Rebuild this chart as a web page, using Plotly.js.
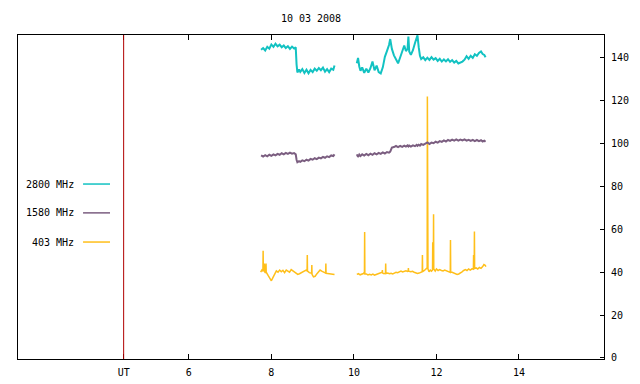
<!DOCTYPE html>
<html>
<head>
<meta charset="utf-8">
<script src="https://cdn.plot.ly/plotly-3.0.1.min.js"></script>
<style>html,body{margin:0;padding:0;background:#fff;}#chart{width:640px;height:384px;}</style>
</head>
<body>
<div id="chart"></div>
<script>
// ---- data (hours UT, solar flux) ----
const chartTitle = "10 03 2008";
const utMarker = 4.42;
const tickHours = [6, 8, 10, 12, 14];
const yTicks = [0, 20, 40, 60, 80, 100, 120, 140];
const seriesNames = ["2800 MHz", "1580 MHz", "403 MHz"];
const seriesColors = ["#12c2c2", "#7b5e80", "#ffbf1a"];

const timeA = [7.75,7.80,7.85,7.90,7.95,8.00,8.05,8.10,8.15,8.20,8.25,8.30,8.35,8.40,8.45,8.50,8.55,
  8.59,8.61,8.63,8.67,
  8.70,8.75,8.80,8.85,8.90,8.95,9.00,9.05,9.10,9.15,9.20,9.25,9.30,9.35,9.40,9.45,9.50,9.53,
  null,
  10.07,10.10,10.13,10.16,10.20,10.25,10.30,10.35,10.40,10.45,10.50,10.55,10.60,10.65,10.70,10.75,10.80,10.85,
  10.88,10.92,10.97,11.02,11.07,11.12,11.17,11.22,11.26,11.30,11.32,11.34,11.38,11.43,11.48,11.52,11.54,11.57,11.60,11.63,
  11.68,11.73,11.78,11.83,11.88,11.93,11.98,12.03,12.08,12.13,12.18,12.23,12.28,12.33,12.38,12.43,12.48,12.53,12.58,12.63,12.68,12.73,12.78,12.83,12.88,12.93,12.98,13.03,13.08,
  13.12,13.16,13.19];

const flux2800 = [143.8,144.6,143.5,145.2,144.3,146.3,145.2,146.6,145.4,146.2,145.0,145.8,144.6,145.5,144.2,145.3,144.4,
  145.0,137.0,133.2,134.6,
  133.5,134.8,133.0,134.5,132.8,134.4,133.4,135.0,134.0,135.3,134.3,135.5,133.6,134.8,133.4,135.0,134.5,136.5,
  null,
  137.5,140.0,136.0,134.0,135.6,133.0,135.0,133.2,135.2,138.3,134.2,136.4,133.4,132.8,135.6,140.5,143.2,146.0,
  148.8,144.2,141.2,139.0,137.5,140.2,143.0,145.8,143.2,144.2,150.0,143.0,141.4,143.6,147.0,149.4,150.5,145.0,141.0,139.5,
  140.3,139.0,140.1,139.1,140.4,139.2,139.9,138.6,139.6,138.3,139.3,138.4,139.4,138.2,139.0,137.8,138.6,137.4,137.7,138.3,139.2,140.8,139.6,141.0,140.0,141.7,141.0,142.3,143.0,
  141.8,141.4,140.3];

const flux1580 = [94.5,94.0,94.6,94.1,94.8,94.3,95.0,94.5,95.2,94.8,95.5,95.0,95.7,95.2,95.8,95.3,95.6,
  95.0,92.5,91.3,91.8,
  91.5,92.2,91.8,92.5,92.1,92.9,92.5,93.2,92.8,93.5,93.1,93.8,93.4,94.1,93.7,94.5,94.2,95.0,
  null,
  95.0,93.8,94.9,94.2,95.0,94.4,95.2,94.6,95.3,94.8,95.5,95.0,95.7,95.2,95.9,95.4,96.1,95.8,
  96.3,98.2,98.4,98.9,98.4,99.0,98.5,99.1,98.6,99.2,98.7,99.1,98.6,99.2,98.8,99.4,99.0,99.5,99.1,99.8,
  99.4,100.2,100.6,99.8,100.5,100.2,100.9,100.5,101.2,100.8,101.5,101.0,101.7,101.3,101.9,101.4,102.0,101.4,101.9,101.5,102.0,101.4,101.8,101.3,101.8,101.2,101.7,101.2,101.6,
  101.0,101.4,100.9];

const time403 = [7.74,7.77,7.795,7.80,7.805,7.82,7.83,7.835,7.86,7.87,7.875,7.92,7.96,8.00,8.04,8.08,8.12,8.16,8.20,8.24,8.28,8.32,8.36,8.40,8.44,8.48,8.52,8.56,8.60,8.64,8.68,8.72,8.76,8.80,8.84,
  8.865,8.87,8.875,8.92,8.975,8.98,8.985,9.02,9.06,9.10,9.14,9.18,9.22,9.26,9.30,9.315,9.32,9.325,9.36,9.40,9.44,9.48,9.53,
  null,
  10.07,10.11,10.15,10.19,10.23,10.255,10.26,10.265,10.30,10.34,10.38,10.42,10.46,10.50,10.54,10.58,10.62,10.66,10.685,10.69,10.695,10.73,10.765,10.77,10.775,
  10.82,10.86,10.90,10.94,10.98,11.02,11.06,11.10,11.14,11.18,11.22,11.26,11.30,11.315,11.32,11.325,11.38,11.42,11.46,11.50,11.54,11.58,11.62,11.655,11.66,11.665,
  11.70,11.74,11.775,11.78,11.785,11.79,11.795,11.82,11.85,11.88,11.905,11.91,11.915,11.925,11.93,11.935,11.97,12.00,12.04,12.08,12.12,12.16,12.20,12.24,12.28,
  12.335,12.34,12.345,12.38,12.42,12.46,12.50,12.54,12.58,12.62,12.66,12.70,12.74,12.78,12.82,12.86,12.895,12.90,12.905,12.915,12.92,12.925,12.96,13.00,13.04,13.08,13.12,13.15,13.18,13.20];

const flux403 = [40.0,41.0,40.5,50.0,40.5,41.2,44.0,40.2,39.6,44.0,40.0,38.5,37.2,36.0,37.6,39.5,40.6,40.0,41.0,40.2,40.9,39.8,41.0,40.5,40.0,41.2,40.7,40.0,39.4,39.0,39.3,39.8,40.3,40.6,41.0,
  40.6,48.0,40.5,39.8,39.5,43.3,39.0,37.8,38.1,39.2,40.0,41.0,40.5,40.2,39.7,39.6,44.0,39.5,39.4,39.2,39.1,39.0,38.9,
  null,
  39.0,39.3,38.8,39.1,39.4,40.0,58.8,39.2,39.2,38.7,39.0,38.7,39.1,38.6,38.9,39.2,39.5,39.9,40.0,41.0,39.6,39.3,39.5,44.0,39.4,
  39.6,39.3,39.5,39.2,39.6,40.0,39.8,40.2,40.5,40.1,40.4,40.7,40.4,40.5,42.0,40.5,40.2,40.4,40.0,39.6,39.4,39.6,40.0,40.2,48.0,40.3,
  40.7,41.5,42.0,122.0,42.5,81.0,41.5,40.2,41.0,40.5,41.0,54.0,41.2,41.5,67.0,41.5,40.5,41.5,40.8,41.2,40.8,40.6,41.0,40.7,40.4,
  39.9,55.0,40.0,40.0,39.6,39.2,39.0,39.2,39.6,40.2,40.8,41.2,40.8,41.5,41.0,41.6,41.5,48.0,41.5,41.6,59.0,41.8,42.0,41.5,42.2,41.8,42.6,43.6,43.2,42.6];

const xRange = [1.86, 16.06];
const yRange = [-0.5, 150.7];

// ---- chart ----
const FONT = "DejaVu Sans Mono, Liberation Mono, monospace";
const mk = (x, y, c, w) => ({x: x, y: y, type: "scatter", mode: "lines", connectgaps: false,
  line: {color: c, width: w}, hoverinfo: "skip", showlegend: false});

const traces = [
  mk(time403, flux403, seriesColors[2], 1.5),
  mk(timeA, flux1580, seriesColors[1], 2),
  mk(timeA, flux2800, seriesColors[0], 2)
];

const legendY = [0.540, 0.451, 0.361];
const annotations = [];
const shapes = [{type: "line", xref: "x", yref: "paper", x0: utMarker, x1: utMarker, y0: 0, y1: 1,
  line: {color: "#b00000", width: 1}, layer: "above"}];
seriesNames.forEach((n, i) => {
  annotations.push({text: n, xref: "paper", yref: "paper", x: 0.099, y: legendY[i],
    xanchor: "right", yanchor: "middle", showarrow: false, font: {family: FONT, size: 10, color: "#000"}});
  shapes.push({type: "line", xref: "paper", yref: "paper", x0: 0.111, x1: 0.157, y0: legendY[i], y1: legendY[i],
    line: {color: seriesColors[i], width: 1.5}});
});

const layout = {
  width: 640, height: 384,
  margin: {l: 18, r: 36, t: 35, b: 25, pad: 0},
  paper_bgcolor: "#fff", plot_bgcolor: "#fff",
  font: {family: FONT, size: 10, color: "#000"},
  title: {text: chartTitle, x: 0.486, xanchor: "center", y: 0.953, yanchor: "middle", yref: "container",
    font: {family: FONT, size: 10, color: "#000"}},
  showlegend: false,
  xaxis: {range: xRange, tickvals: [utMarker].concat(tickHours),
    ticktext: ["UT"].concat(tickHours.map(String)),
    ticks: "inside", ticklen: 5, tickcolor: "#000", tickwidth: 1,
    showline: true, linecolor: "#000", linewidth: 1, mirror: "ticks",
    showgrid: false, zeroline: false, ticklabelstandoff: 4, fixedrange: true},
  yaxis: {range: yRange, side: "right", tickvals: yTicks,
    ticks: "inside", ticklen: 4, tickcolor: "#000", tickwidth: 1,
    showline: true, linecolor: "#000", linewidth: 1, mirror: true,
    showgrid: false, zeroline: false, ticklabelstandoff: 4, fixedrange: true},
  annotations: annotations,
  shapes: shapes
};

Plotly.newPlot("chart", traces, layout, {displayModeBar: false, staticPlot: true});
</script>
</body>
</html>
